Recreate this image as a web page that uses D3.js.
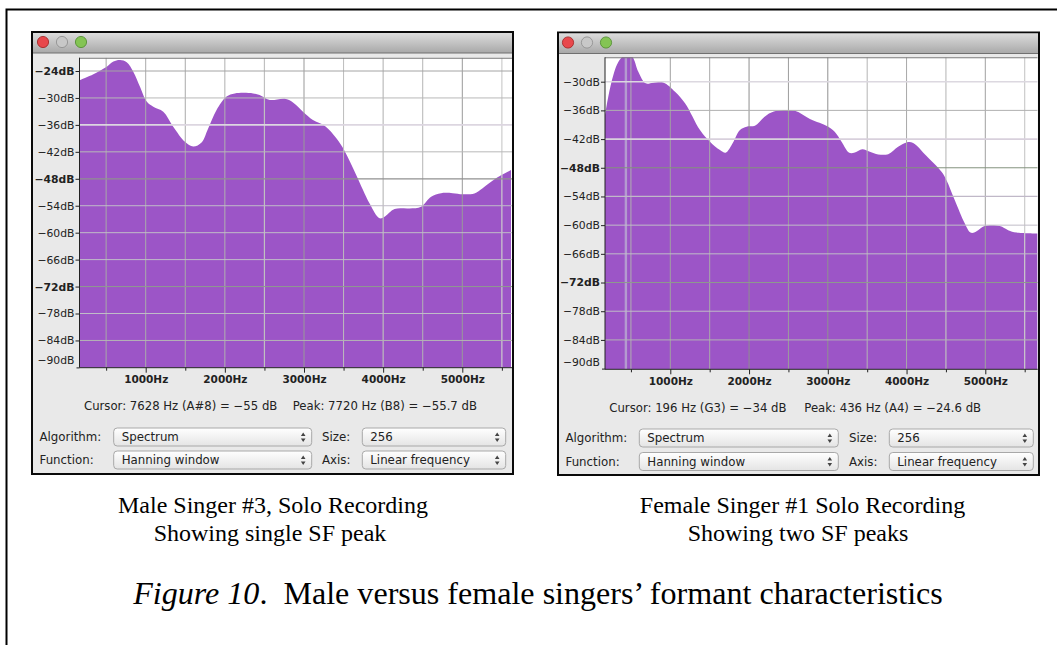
<!DOCTYPE html>
<html><head><meta charset="utf-8">
<script src="https://cdn.jsdelivr.net/npm/d3@7"></script>
<style>
html,body{margin:0;padding:0;background:#fff;overflow:hidden}
svg{display:block}
.ui{font-family:"DejaVu Sans",sans-serif;fill:#222}
.cap{font-family:"Liberation Serif",serif;fill:#000;text-anchor:middle}
</style></head><body>
<svg id="c" width="1057" height="645"></svg>
<script>
const maleHz=[168,339,508,592,676,760,843,928,1013,1096,1222,1348,1496,1600,1706,1789,1895,2021,2126,2357,2463,2567,2756,2861,2987,3113,3261,3409,3513,3661,3829,3955,4018,4144,4333,4480,4606,4732,4879,5005,5153,5257,5426,5615];
const maleDb=[-26,-24.7,-23.05,-21.9,-21.55,-22.05,-24.15,-27.5,-30.8,-31.95,-33.05,-36.4,-39.75,-40.8,-39.9,-36.8,-32.7,-29.7,-29,-29,-29.55,-30.45,-30.2,-31,-33.05,-34.9,-36.2,-39,-41.8,-47.2,-53.5,-56.8,-56.45,-54.75,-54.6,-54.2,-52,-51.2,-51.2,-51.45,-51.25,-50.1,-47.9,-46.05];
const femaleHz=[171,213,277,340,404,510,594,688,784,911,1060,1187,1377,1504,1631,1703,1779,1885,1970,2075,2223,2350,2582,2773,3005,3090,3175,3272,3344,3437,3534,3640,3767,3893,3999,4084,4254,4444,4507,4613,4740,4812,4867,4994,5184,5290,5396,5662];
const femaleDb=[-37,-33.1,-28.6,-25.9,-24.7,-24.7,-27.9,-30.35,-30.2,-30.15,-32.1,-34.5,-40.1,-42.55,-44.3,-44.85,-43.25,-40.1,-39.4,-39.2,-37,-36.1,-36.1,-37.8,-39.4,-40.5,-42.55,-44.85,-44.8,-44.15,-44.65,-45.2,-45.15,-43.6,-42.7,-42.8,-45.55,-48.85,-50.6,-54.8,-59.65,-61.55,-61.5,-60.2,-60.2,-61.05,-61.55,-61.75];
const hzTicks=[500,1000,1500,2000,2500,3000,3500,4000,4500,5000,5500];
const maleDbTicks=[-24,-30,-36,-42,-48,-54,-60,-66,-72,-78,-84,-90];
const femaleDbTicks=[-30,-36,-42,-48,-54,-60,-66,-72,-78,-84,-90];
const maleBold=[-24,-48,-72];
const femaleBold=[-48,-72];
const maleTexts=["Cursor: 7628 Hz (A#8) = −55 dB","Peak: 7720 Hz (B8) = −55.7 dB"];
const femaleTexts=["Cursor: 196 Hz (G3) = −34 dB","Peak: 436 Hz (A4) = −24.6 dB"];
const femalePeakHz=[436];
const maleCaption=["Male Singer #3, Solo Recording","Showing single SF peak"];
const femaleCaption=["Female Singer #1 Solo Recording","Showing two SF peaks"];

const svg=d3.select("#c");
const defs=svg.append("defs");
const tg=defs.append("linearGradient").attr("id","tb").attr("x2",0).attr("y2",1);
tg.append("stop").attr("offset",0).attr("stop-color","#dcdcdc");
tg.append("stop").attr("offset",1).attr("stop-color","#a8a8a8");
const sg=defs.append("linearGradient").attr("id","sel").attr("x2",0).attr("y2",1);
sg.append("stop").attr("offset",0).attr("stop-color","#ffffff");
sg.append("stop").attr("offset",1).attr("stop-color","#e4e4e4");

svg.append("path").attr("d","M6.5 645V9.5H1057").attr("fill","none").attr("stroke","#000").attr("stroke-width",2);

function panel(o){
  const g=svg.append("g");
  g.append("rect").attr("x",o.wx).attr("y",o.wy).attr("width",o.ww).attr("height",o.wh).attr("fill","#e9e9e9").attr("stroke","#0a0a0a").attr("stroke-width",2);
  g.append("rect").attr("x",o.wx+1).attr("y",o.wy+1).attr("width",o.ww-2).attr("height",20).attr("fill","url(#tb)");
  g.append("line").attr("x1",o.wx+1).attr("x2",o.wx+o.ww-1).attr("y1",o.wy+21).attr("y2",o.wy+21).attr("stroke","#707070");
  [["#e8484c","#a02020"],["#c8c8c8","#8c8c8c"],["#84c454","#4c8a2c"]].forEach((c,i)=>{
    g.append("circle").attr("cx",o.wx+o.tl+i*19).attr("cy",o.wy+10).attr("r",5.6).attr("fill",c[0]).attr("stroke",c[1]).attr("stroke-width",.8);
  });
  const x=d3.scaleLinear().domain([1000,5000]).range(o.xr);
  const y=d3.scaleLinear().domain(o.yd).range(o.yr);
  g.append("rect").attr("x",o.l).attr("y",o.t).attr("width",o.r-o.l).attr("height",o.b-o.t).attr("fill","#fff");
  const cid="clip"+o.id;
  defs.append("clipPath").attr("id",cid).append("rect").attr("x",o.l).attr("y",o.t).attr("width",o.r-o.l).attr("height",o.b-o.t);
  const plot=g.append("g").attr("clip-path",`url(#${cid})`);
  const pts=d3.zip(o.hz,o.db);
  plot.append("path").datum(pts).attr("fill","#9c55c7")
    .attr("d",d3.area().x(d=>x(d[0])).y0(o.b).y1(d=>y(d[1])).curve(d3.curveCatmullRom.alpha(0.5)));
  o.peak.forEach(p=>plot.append("line").attr("x1",x(p)).attr("x2",x(p)).attr("y1",o.t).attr("y2",o.b).attr("stroke","#b49ad0").attr("stroke-width",2.4));
  hzTicks.forEach((h,i)=>{
    plot.append("line").attr("x1",x(h)).attr("x2",x(h)).attr("y1",o.t).attr("y2",o.b).attr("stroke",o.vc[i]).attr("stroke-width",o.vw[i]);
  });
  o.dbTicks.forEach((v,i)=>{
    plot.append("line").attr("x1",o.l).attr("x2",o.r).attr("y1",y(v)).attr("y2",y(v)).attr("stroke",o.hc[i]).attr("stroke-width",o.hw[i]);
  });
  plot.append("line").attr("x1",o.l).attr("x2",o.r).attr("y1",o.t).attr("y2",o.t).attr("stroke","#777").attr("stroke-width",2);
  const ya=g.append("g").attr("transform",`translate(${o.l},0)`).call(d3.axisLeft(y).tickValues(o.dbTicks).tickSize(4).tickPadding(1).tickFormat(d=>"−"+Math.abs(d)+"dB"));
  ya.select(".domain").attr("d",`M0,${o.t}V${o.b}`).attr("stroke","#222");
  ya.selectAll("text").attr("class","ui").attr("font-size",10.8).attr("font-family",null)
    .attr("font-weight",d=>o.bold.includes(d)?"bold":"normal");
  ya.selectAll(".tick").filter(d=>d===-90).select("text").attr("y",-7);
  ya.selectAll(".tick").filter(d=>d===-90).select("line").attr("x2",-3);
  const xa=g.append("g").attr("transform",`translate(0,${o.b})`).call(d3.axisBottom(x).tickValues(hzTicks).tickSize(3).tickPadding(3).tickFormat(d=>d%1000===0?d+"Hz":""));
  xa.select(".domain").attr("d",`M${o.l},0H${o.r}`).attr("stroke","#222");
  xa.selectAll("line").attr("stroke","#222");
  xa.selectAll(".tick").filter(d=>d%1000===0).select("line").attr("y2",5);
  xa.selectAll("text").attr("class","ui").attr("font-size",10.5).attr("font-weight","bold").attr("y",8);
  ya.selectAll("line").attr("stroke","#222");
  g.append("text").attr("class","ui").attr("x",o.tx[0]).attr("y",o.ty).attr("font-size",11.7).text(o.texts[0]);
  g.append("text").attr("class","ui").attr("x",o.tx[1]).attr("y",o.ty).attr("font-size",11.7).text(o.texts[1]);
  o.rows.forEach((ry,ri)=>{
    const L=[["Algorithm:","Spectrum"],["Function:","Hanning window"]][ri];
    const R=[["Size:","256"],["Axis:","Linear frequency"]][ri];
    g.append("text").attr("class","ui").attr("x",o.wx+7.5).attr("y",ry+13).attr("font-size",11.8).text(L[0]);
    g.append("text").attr("class","ui").attr("x",o.lab2).attr("y",ry+13).attr("font-size",11.8).text(R[0]);
    [[o.s1,L[1]],[o.s2,R[1]]].forEach(s=>{
      g.append("rect").attr("x",s[0][0]).attr("y",ry).attr("width",s[0][1]-s[0][0]).attr("height",18).attr("rx",3.5).attr("fill","url(#sel)").attr("stroke","#a8a8a8");
      g.append("text").attr("class","ui").attr("x",s[0][0]+8).attr("y",ry+13).attr("font-size",11.8).text(s[1]);
      const ax=s[0][1]-8.5;
      g.append("path").attr("d",`M${ax-2.3} ${ry+8}L${ax} ${ry+4.5}L${ax+2.3} ${ry+8}ZM${ax-2.3} ${ry+10.5}L${ax} ${ry+14}L${ax+2.3} ${ry+10.5}Z`).attr("fill","#444");
    });
  });
  o.cap.forEach((t,i)=>{
    svg.append("text").attr("class","cap").attr("x",o.capx[i]).attr("y",513+i*28).attr("font-size",24).text(t);
  });
}
panel({id:"m",wx:32,wy:32,ww:481,wh:442,tl:11,l:79.5,r:512,t:57.7,b:367.7,
  xr:[145.7,462.3],yd:[-24,-90],yr:[71,367.4],hz:maleHz,db:maleDb,dbTicks:maleDbTicks,bold:maleBold,peak:[],
  vc:["#a8a8a8","#aaaaaa","#aaaaaa","#b0b0b0","#c0c0c0","#999999","#bcbcbc","#bcbcbc","#b4b4b4","#999999","#cccccc"],
  vw:[1,1,1,1,1.2,1,1,1.2,1,1,1.2],
  hc:["#a4a4a4","#b8b8b8","#dcd6e0","#b8b8b8","#909090","#c0bcc8","#c0bcc8","#c0bcc8","#8e9a8e","#c0bcc8","#b4b4b4","#222"],
  hw:[1,1,1.6,1,1.2,1,1,1,1,1,1,0],
  texts:maleTexts,tx:[84,292.7],ty:410,rows:[428,451],lab2:322,s1:[113.7,311.7],s2:[362.3,505.7],
  cap:maleCaption,capx:[273,270]});
panel({id:"f",wx:558,wy:32.5,ww:481,wh:442.5,tl:10,l:605,r:1037.7,t:57.3,b:369.3,
  xr:[670.3,985.3],yd:[-30,-90],yr:[81.7,368.6],hz:femaleHz,db:femaleDb,dbTicks:femaleDbTicks,bold:femaleBold,peak:femalePeakHz,
  vc:["#b0b0b0","#a0a0a0","#aaaaaa","#8f8f8f","#9c9c9c","#909090","#b4b4b4","#a8a8a8","#c0c0c0","#a0a0a0","#cccccc"],
  vw:[1,1,1,1,1,1,1,1,1.2,1,1.2],
  hc:["#dcd8e0","#b0b0b0","#d8d0dc","#84927e","#c0b8c8","#c0bcc8","#c0bcc8","#8e9a8e","#c0bcc8","#b4b4b4","#222"],
  hw:[1.6,1,1.6,1,1.2,1,1,1,1,1,0],
  texts:femaleTexts,tx:[609.3,804.3],ty:412,rows:[429,452.5],lab2:849,s1:[639.3,838.3],s2:[889.3,1033.3],
  cap:femaleCaption,capx:[802.5,798]});
const fig=svg.append("text").attr("class","cap").attr("x",538).attr("y",604).attr("font-size",32.1).attr("xml:space","preserve");
fig.append("tspan").attr("font-style","italic").text("Figure 10");
fig.append("tspan").text(".  Male versus female singers’ formant characteristics");
</script>
</body></html>
